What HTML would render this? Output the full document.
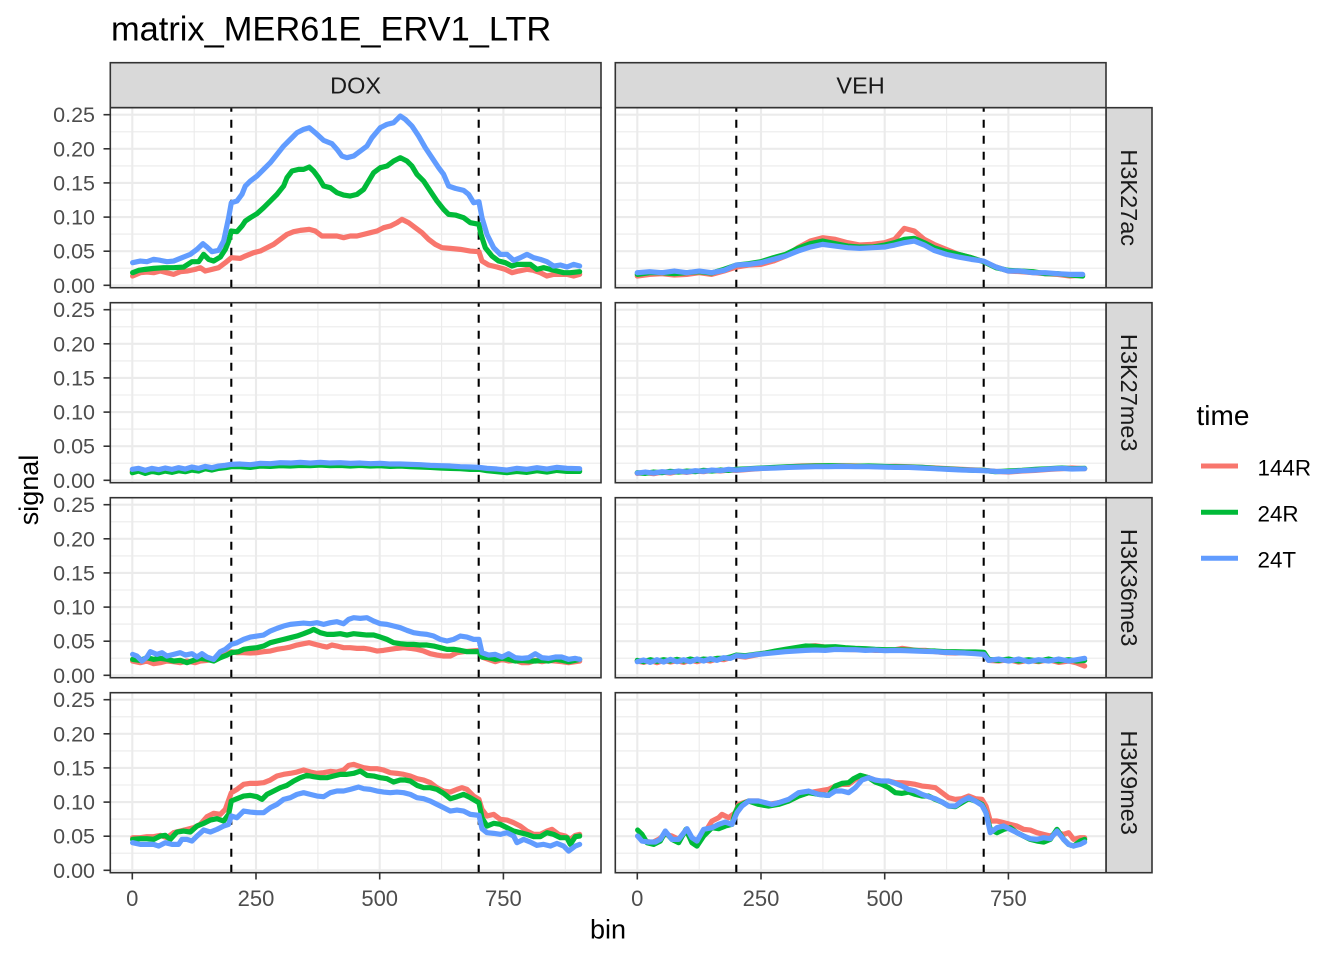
<!DOCTYPE html>
<html><head><meta charset="utf-8"><style>
html,body{margin:0;padding:0;background:#fff;}
svg{display:block;}
text{font-family:"Liberation Sans",Arial,sans-serif;}
</style></head><body>
<svg width="1344" height="960" viewBox="0 0 1344 960" xmlns="http://www.w3.org/2000/svg">
<defs>
<g id="grid">
<rect x="0" y="0" width="490.7" height="180" fill="#fff"/>
<g stroke="#EBEBEB" stroke-width="1.1">
<line x1="0" x2="490.7" y1="160.5" y2="160.5"/><line x1="0" x2="490.7" y1="126.4" y2="126.4"/><line x1="0" x2="490.7" y1="92.3" y2="92.3"/><line x1="0" x2="490.7" y1="58.2" y2="58.2"/><line x1="0" x2="490.7" y1="24.1" y2="24.1"/>
<line y1="0" y2="180" x1="83.9" x2="83.9"/><line y1="0" y2="180" x1="207.6" x2="207.6"/><line y1="0" y2="180" x1="331.3" x2="331.3"/><line y1="0" y2="180" x1="455" x2="455"/>
</g>
<g stroke="#EBEBEB" stroke-width="2.1">
<line x1="0" x2="490.7" y1="177.6" y2="177.6"/><line x1="0" x2="490.7" y1="143.5" y2="143.5"/><line x1="0" x2="490.7" y1="109.4" y2="109.4"/><line x1="0" x2="490.7" y1="75.2" y2="75.2"/><line x1="0" x2="490.7" y1="41.1" y2="41.1"/><line x1="0" x2="490.7" y1="7" y2="7"/>
<line y1="0" y2="180" x1="22" x2="22"/><line y1="0" y2="180" x1="145.7" x2="145.7"/><line y1="0" y2="180" x1="269.4" x2="269.4"/><line y1="0" y2="180" x1="393.1" x2="393.1"/>
</g>
<g stroke="#000" stroke-width="2.1" stroke-dasharray="8 8" stroke-dashoffset="4">
<line x1="121" x2="121" y1="0" y2="180"/><line x1="368.4" x2="368.4" y1="0" y2="180"/>
</g>
</g>
<g id="border"><rect x="0" y="0" width="490.7" height="180" fill="none" stroke="#333333" stroke-width="1.6"/></g>
<g id="yax" fill="#4D4D4D" font-size="21.5" text-anchor="end">
<text x="95" y="185.1">0.00</text><text x="95" y="151">0.05</text><text x="95" y="116.9">0.10</text><text x="95" y="82.7">0.15</text><text x="95" y="48.6">0.20</text><text x="95" y="14.5">0.25</text>
<g stroke="#333333" stroke-width="1.6"><line x1="103.5" x2="110.3" y1="177.6" y2="177.6"/><line x1="103.5" x2="110.3" y1="143.5" y2="143.5"/><line x1="103.5" x2="110.3" y1="109.4" y2="109.4"/><line x1="103.5" x2="110.3" y1="75.2" y2="75.2"/><line x1="103.5" x2="110.3" y1="41.1" y2="41.1"/><line x1="103.5" x2="110.3" y1="7" y2="7"/></g>
</g>
</defs>

<rect width="1344" height="960" fill="#fff"/>
<text x="111" y="40.7" font-size="34.4" fill="#000">matrix_MER61E_ERV1_LTR</text>

<!-- top strips -->
<rect x="110.3" y="62.7" width="490.7" height="45" fill="#D9D9D9" stroke="#333333" stroke-width="1.6"/>
<rect x="615.3" y="62.7" width="490.7" height="45" fill="#D9D9D9" stroke="#333333" stroke-width="1.6"/>
<text x="355.6" y="93.5" font-size="23.5" fill="#1A1A1A" text-anchor="middle">DOX</text>
<text x="860.6" y="93.5" font-size="23.5" fill="#1A1A1A" text-anchor="middle">VEH</text>

<!-- right strips -->
<g fill="#D9D9D9" stroke="#333333" stroke-width="1.6">
<rect x="1106" y="107.7" width="46" height="180"/>
<rect x="1106" y="302.7" width="46" height="180"/>
<rect x="1106" y="497.7" width="46" height="180"/>
<rect x="1106" y="692.7" width="46" height="180"/>
</g>
<g font-size="23.5" fill="#1A1A1A" text-anchor="middle">
<text transform="translate(1120.8,197.7) rotate(90)">H3K27ac</text>
<text transform="translate(1120.8,392.7) rotate(90)">H3K27me3</text>
<text transform="translate(1120.8,587.7) rotate(90)">H3K36me3</text>
<text transform="translate(1120.8,782.7) rotate(90)">H3K9me3</text>
</g>

<!-- y axes -->
<use href="#yax" transform="translate(0,107.7)"/>
<use href="#yax" transform="translate(0,302.7)"/>
<use href="#yax" transform="translate(0,497.7)"/>
<use href="#yax" transform="translate(0,692.7)"/>

<!-- x axes -->
<g stroke="#333333" stroke-width="1.6">
<line x1="132.3" x2="132.3" y1="872.7" y2="879.5"/><line x1="256" x2="256" y1="872.7" y2="879.5"/><line x1="379.7" x2="379.7" y1="872.7" y2="879.5"/><line x1="503.4" x2="503.4" y1="872.7" y2="879.5"/>
<line x1="637.3" x2="637.3" y1="872.7" y2="879.5"/><line x1="761" x2="761" y1="872.7" y2="879.5"/><line x1="884.7" x2="884.7" y1="872.7" y2="879.5"/><line x1="1008.4" x2="1008.4" y1="872.7" y2="879.5"/>
</g>
<g font-size="22" fill="#4D4D4D" text-anchor="middle">
<text x="132.3" y="906">0</text><text x="256" y="906">250</text><text x="379.7" y="906">500</text><text x="503.4" y="906">750</text>
<text x="637.3" y="906">0</text><text x="761" y="906">250</text><text x="884.7" y="906">500</text><text x="1008.4" y="906">750</text>
</g>
<text x="608" y="938.5" font-size="27" fill="#000" text-anchor="middle">bin</text>
<text transform="translate(38,490) rotate(-90)" font-size="27" fill="#000" text-anchor="middle">signal</text>

<!-- legend -->
<text x="1196.5" y="425" font-size="28" fill="#000">time</text>
<g stroke-width="5">
<line x1="1201" x2="1238" y1="466" y2="466" stroke="#F8766D"/>
<line x1="1201" x2="1238" y1="512.3" y2="512.3" stroke="#00BA38"/>
<line x1="1201" x2="1238" y1="558.3" y2="558.3" stroke="#619CFF"/>
</g>
<g font-size="22.4" fill="#000">
<text x="1257.5" y="475.7">144R</text><text x="1257.5" y="521.7">24R</text><text x="1257.5" y="567.7">24T</text>
</g>

<!-- PANEL DOX H3K27ac -->
<g transform="translate(110.3,107.7)">
<use href="#grid"/>
<g transform="scale(0.33333)" fill="none" stroke-width="15.6" stroke-linejoin="round" stroke-linecap="round">
<polyline stroke="#F8766D" points="67,505 90,495 110,493 130,495 150,490 170,495 190,500 210,492 230,490 255,485 270,480 285,490 305,485 325,480 345,465 363,450 390,452 405,445 430,435 450,430 470,420 490,410 510,395 530,380 550,372 570,368 597,365 615,370 635,385 660,385 680,385 700,390 720,385 740,385 760,380 780,375 800,370 820,360 840,355 860,345 875,335 895,345 915,360 935,375 955,395 975,410 995,420 1020,422 1050,425 1080,430 1106,432 1115,460 1135,472 1160,478 1185,485 1205,495 1225,490 1250,485 1270,488 1290,495 1310,505 1330,500 1350,500 1370,500 1390,505 1408,500"/>
<polyline stroke="#00BA38" points="67,495 85,488 105,485 130,482 160,480 190,480 220,478 245,462 265,462 280,440 295,455 310,460 330,448 345,425 355,400 363,370 380,372 395,355 405,340 420,330 440,318 460,300 480,280 500,260 520,235 530,210 545,190 565,185 580,185 597,178 610,190 625,210 640,235 660,240 680,255 700,262 720,265 740,260 760,245 775,220 790,195 810,180 830,175 850,160 870,150 890,160 905,175 920,200 940,220 960,250 980,280 1000,305 1015,320 1035,322 1060,330 1080,345 1106,350 1112,380 1125,420 1145,445 1165,460 1185,465 1205,475 1220,470 1240,470 1260,470 1280,485 1300,480 1320,485 1340,490 1360,495 1380,495 1408,492"/>
<polyline stroke="#619CFF" points="67,465 90,460 110,462 130,455 150,458 170,462 190,460 215,450 240,440 260,425 278,408 290,418 305,432 325,428 340,400 355,330 363,285 380,280 395,260 405,235 420,220 440,205 460,185 480,165 500,140 520,115 540,95 560,75 580,65 597,60 615,75 640,98 665,108 680,125 695,145 710,150 730,145 750,130 770,115 785,90 810,60 830,50 850,45 870,25 885,35 905,55 925,85 945,120 965,150 985,180 1000,200 1015,235 1035,242 1060,248 1075,260 1090,285 1106,282 1115,330 1130,380 1150,420 1170,440 1190,440 1210,458 1230,450 1250,440 1270,450 1290,455 1310,462 1330,475 1350,472 1370,478 1390,470 1408,475"/>
</g>
<use href="#border"/>
</g>

<!-- PANEL VEH H3K27ac -->
<g transform="translate(615.3,107.7)">
<use href="#grid"/>
<g transform="scale(0.33333)" fill="none" stroke-width="15.6" stroke-linejoin="round" stroke-linecap="round">
<polyline stroke="#F8766D" points="66,505 103,500 140,498 177,502 214,500 252,495 289,500 326,490 363,478 400,472 437,470 474,460 511,445 548,420 585,400 622,390 660,395 697,405 734,412 771,410 808,405 838,395 867,362 897,370 927,395 956,410 993,425 1030,440 1068,450 1105,462 1142,478 1179,490 1216,492 1253,495 1290,498 1327,500 1364,505 1402,502"/>
<polyline stroke="#00BA38" points="66,500 103,495 140,495 177,498 214,495 252,492 289,496 326,485 363,472 400,468 437,462 474,450 511,440 548,422 585,408 622,400 660,408 697,415 734,418 771,418 808,412 838,405 867,395 897,392 927,405 956,420 993,432 1030,440 1068,450 1105,462 1142,480 1179,488 1216,490 1253,492 1290,498 1327,498 1364,502 1402,505"/>
<polyline stroke="#619CFF" points="66,495 103,492 140,495 177,490 214,495 252,490 289,495 326,488 363,472 400,470 437,465 474,455 511,445 548,430 585,418 622,410 660,415 697,420 734,422 771,420 808,418 838,412 867,405 897,400 927,412 956,428 993,440 1030,448 1068,455 1105,460 1142,478 1179,490 1216,490 1253,495 1290,495 1327,498 1364,500 1402,500"/>
</g>
<use href="#border"/>
</g>

<!-- PANEL DOX H3K27me3 -->
<g transform="translate(110.3,302.7)">
<use href="#grid"/>
<g transform="scale(0.33333)" fill="none" stroke-width="15.6" stroke-linejoin="round" stroke-linecap="round">
<polyline stroke="#F8766D" points="66,505 85,500 105,506 125,502 145,505 165,500 185,504 205,500 225,503 245,498 265,502 285,496 305,500 325,495 345,493 363,490 390,490 420,492 450,488 480,490 510,487 540,488 570,485 600,487 630,485 660,487 690,486 720,488 750,486 780,488 810,487 840,489 870,488 900,490 930,490 960,492 990,493 1020,494 1050,495 1080,496 1106,497 1130,500 1160,502 1190,505 1220,500 1250,503 1280,498 1310,502 1340,498 1370,500 1408,502"/>
<polyline stroke="#00BA38" points="66,510 85,505 105,512 125,506 145,510 165,505 185,509 205,504 225,507 245,502 265,505 285,498 305,502 325,497 345,495 363,492 390,492 420,494 450,490 480,491 510,489 540,490 570,488 600,489 630,487 660,489 690,488 720,490 750,488 780,490 810,489 840,491 870,490 900,492 930,493 960,494 990,496 1020,497 1050,498 1080,500 1106,500 1130,504 1160,507 1190,510 1220,506 1250,509 1280,504 1310,508 1340,503 1370,506 1408,506"/>
<polyline stroke="#619CFF" points="66,500 85,497 105,503 125,497 145,501 165,496 185,500 205,495 225,499 245,493 265,497 285,491 305,495 325,490 345,488 363,485 390,484 420,486 450,482 480,483 510,480 540,481 570,479 600,481 630,479 660,481 690,480 720,482 750,481 780,483 810,482 840,484 870,484 900,485 930,486 960,488 990,489 1020,490 1050,492 1080,493 1106,494 1130,497 1160,499 1190,502 1220,497 1250,500 1280,495 1310,499 1340,494 1370,497 1408,498"/>
</g>
<use href="#border"/>
</g>

<!-- PANEL VEH H3K27me3 -->
<g transform="translate(615.3,302.7)">
<use href="#grid"/>
<g transform="scale(0.33333)" fill="none" stroke-width="15.6" stroke-linejoin="round" stroke-linecap="round">
<polyline stroke="#F8766D" points="66,512 90,510 115,513 140,508 165,511 190,506 215,509 240,505 265,507 290,503 315,505 340,502 363,503 400,500 440,497 480,495 520,492 560,490 600,489 640,490 680,489 720,490 760,491 800,492 840,491 880,492 920,494 960,496 1000,498 1040,500 1080,502 1106,503 1140,506 1180,508 1220,505 1260,503 1300,500 1340,498 1370,496 1408,498"/>
<polyline stroke="#00BA38" points="66,510 90,512 115,508 140,510 165,506 190,508 215,505 240,507 265,503 290,505 315,502 340,503 363,500 400,498 440,496 480,494 520,492 560,491 600,490 640,489 680,490 720,491 760,490 800,491 840,492 880,493 920,494 960,497 1000,499 1040,501 1080,503 1106,503 1140,507 1180,505 1220,503 1260,500 1300,498 1340,496 1370,498 1408,497"/>
<polyline stroke="#619CFF" points="66,511 90,508 115,511 140,507 165,509 190,505 215,508 240,504 265,506 290,502 315,504 340,500 363,502 400,499 440,497 480,496 520,494 560,493 600,492 640,492 680,491 720,492 760,492 800,493 840,494 880,494 920,496 960,498 1000,500 1040,502 1080,503 1106,504 1140,506 1180,507 1220,504 1260,502 1300,499 1340,497 1370,499 1408,498"/>
</g>
<use href="#border"/>
</g>

<!-- PANEL DOX H3K36me3 -->
<g transform="translate(110.3,497.7)">
<use href="#grid"/>
<g transform="scale(0.33333)" fill="none" stroke-width="15.6" stroke-linejoin="round" stroke-linecap="round">
<polyline stroke="#F8766D" points="67,490 90,495 110,490 130,498 150,495 170,490 190,492 210,495 230,490 255,495 270,490 290,488 310,485 330,478 345,472 363,462 380,465 400,465 420,466 440,465 460,462 480,460 500,455 520,452 540,448 560,442 580,438 597,435 615,440 635,445 650,448 665,442 680,445 700,450 720,450 740,452 760,452 780,455 800,460 820,458 840,455 860,452 880,450 900,452 920,455 940,460 960,468 980,472 1000,475 1020,475 1040,465 1060,462 1080,460 1106,458 1115,478 1135,485 1155,492 1175,485 1195,490 1215,488 1235,495 1255,495 1275,488 1295,492 1315,488 1335,490 1355,492 1375,495 1395,492 1408,490"/>
<polyline stroke="#00BA38" points="67,485 90,488 110,480 130,485 150,482 170,485 190,490 210,488 230,495 250,488 270,482 290,485 310,490 330,480 350,472 363,465 385,462 400,455 420,452 440,450 460,445 480,435 500,430 520,425 540,420 560,415 580,408 600,400 610,395 630,405 650,410 670,410 690,408 710,412 730,408 750,410 770,412 790,412 810,418 830,425 850,435 870,438 890,440 910,440 930,442 950,442 970,445 990,450 1010,455 1030,455 1050,458 1070,462 1090,462 1106,462 1115,478 1135,480 1155,485 1175,482 1195,485 1215,490 1235,488 1255,490 1275,490 1295,488 1315,490 1335,485 1355,488 1375,492 1395,488 1408,485"/>
<polyline stroke="#619CFF" points="67,470 80,475 95,490 110,478 120,462 140,470 155,465 170,475 190,470 210,465 225,472 245,468 260,478 275,468 290,478 310,485 330,462 345,455 363,440 380,435 400,425 420,418 440,415 460,412 480,400 500,392 520,385 540,380 560,378 580,376 600,378 620,375 640,380 660,375 680,372 700,378 715,365 730,360 750,362 770,360 790,370 810,378 830,380 850,385 870,390 890,398 910,405 930,408 950,410 970,415 990,425 1010,430 1030,425 1050,415 1070,418 1090,425 1106,425 1115,465 1135,472 1155,470 1175,478 1195,468 1215,480 1235,482 1255,480 1275,468 1295,480 1315,482 1335,478 1355,478 1375,485 1395,482 1408,485"/>
</g>
<use href="#border"/>
</g>

<!-- PANEL VEH H3K36me3 -->
<g transform="translate(615.3,497.7)">
<use href="#grid"/>
<g transform="scale(0.33333)" fill="none" stroke-width="15.6" stroke-linejoin="round" stroke-linecap="round">
<polyline stroke="#F8766D" points="66,490 85,494 105,488 125,495 145,488 165,493 185,489 205,494 225,487 245,492 265,486 285,490 305,484 325,486 345,480 363,475 390,478 420,472 450,466 480,462 510,458 540,452 570,446 600,444 630,448 660,450 690,455 720,456 750,455 780,458 810,458 840,456 860,452 880,455 900,458 930,458 960,462 990,465 1020,466 1050,465 1080,466 1106,468 1120,488 1150,490 1180,486 1210,493 1240,488 1270,492 1300,486 1330,494 1360,490 1385,496 1408,505"/>
<polyline stroke="#00BA38" points="66,488 85,492 105,486 125,491 145,486 165,490 185,485 205,490 225,484 245,488 265,484 285,486 305,482 325,482 345,478 363,472 390,474 420,470 450,466 480,460 510,455 540,450 570,445 600,446 630,448 660,447 690,450 720,452 750,453 780,455 810,456 840,456 870,457 900,458 930,460 960,460 990,462 1020,462 1050,463 1080,463 1106,464 1120,485 1150,488 1180,484 1210,490 1240,486 1270,490 1300,484 1330,490 1360,486 1385,490 1408,488"/>
<polyline stroke="#619CFF" points="66,492 85,487 105,494 125,486 145,493 165,485 185,492 205,486 225,492 245,484 265,490 285,483 305,488 325,480 345,482 363,474 390,476 420,471 450,468 480,465 510,462 540,460 570,458 600,457 630,458 660,455 690,456 720,456 750,458 780,457 810,459 840,458 870,459 900,460 930,461 960,462 990,464 1020,465 1050,466 1080,468 1106,470 1120,488 1150,484 1180,490 1210,484 1240,492 1270,486 1300,490 1330,484 1360,490 1385,486 1408,482"/>
</g>
<use href="#border"/>
</g>

<!-- PANEL DOX H3K9me3 -->
<g transform="translate(110.3,692.7)">
<use href="#grid"/>
<g transform="scale(0.33333)" fill="none" stroke-width="15.6" stroke-linejoin="round" stroke-linecap="round">
<polyline stroke="#F8766D" points="67,435 90,435 110,432 130,432 150,428 170,435 190,420 210,415 230,410 250,405 270,395 290,372 310,362 330,365 345,350 363,300 380,290 400,275 420,272 440,272 460,270 480,262 500,250 520,245 540,242 560,238 580,232 600,238 620,242 640,240 660,236 680,238 700,232 715,218 730,215 745,220 760,225 780,228 800,228 820,232 840,240 860,242 880,245 900,250 920,258 940,262 960,270 980,285 1000,295 1020,298 1040,290 1055,285 1070,290 1090,310 1106,320 1115,350 1130,370 1150,365 1170,380 1190,382 1210,390 1230,400 1250,415 1270,425 1290,425 1310,415 1325,410 1345,425 1365,430 1380,440 1395,428 1408,425"/>
<polyline stroke="#00BA38" points="67,440 90,438 110,438 130,440 150,430 165,428 180,440 200,418 220,415 240,418 260,400 280,392 300,382 320,378 340,385 355,365 363,325 380,318 400,310 420,308 440,312 455,320 470,305 490,295 510,285 530,278 550,265 570,255 590,248 610,252 630,255 650,255 670,250 690,245 710,245 730,242 750,235 770,248 790,250 810,255 830,258 850,268 870,262 885,262 900,265 920,278 940,285 960,285 980,290 1000,302 1020,318 1040,312 1060,305 1080,315 1106,330 1115,375 1130,400 1150,392 1170,395 1190,405 1210,415 1230,420 1250,425 1270,432 1290,432 1310,420 1330,425 1350,435 1370,435 1380,455 1395,432 1408,430"/>
<polyline stroke="#619CFF" points="67,450 90,455 110,455 130,455 145,460 165,450 185,455 205,455 215,440 230,440 245,445 260,430 280,412 300,418 320,410 340,400 355,395 363,370 380,375 400,355 420,358 440,360 460,360 480,345 500,335 520,320 540,315 560,305 580,300 600,305 620,310 640,312 660,300 680,295 700,295 720,290 745,283 760,288 780,290 800,295 820,298 840,300 860,298 880,300 900,305 920,315 940,318 960,325 980,335 1000,345 1020,355 1040,352 1060,355 1080,365 1106,368 1115,408 1130,420 1150,422 1170,425 1190,420 1210,430 1220,450 1240,440 1260,448 1280,458 1300,455 1320,460 1340,452 1360,460 1375,475 1395,460 1408,455"/>
</g>
<use href="#border"/>
</g>

<!-- PANEL VEH H3K9me3 -->
<g transform="translate(615.3,692.7)">
<use href="#grid"/>
<g transform="scale(0.33333)" fill="none" stroke-width="15.6" stroke-linejoin="round" stroke-linecap="round">
<polyline stroke="#F8766D" points="67,430 90,445 110,450 130,440 150,425 170,430 190,440 210,415 230,440 245,450 265,425 290,385 310,375 320,365 340,375 360,360 370,335 400,325 430,325 460,335 490,330 520,325 550,310 580,300 610,295 640,290 660,280 680,275 700,275 720,260 740,250 760,255 780,262 800,268 820,265 840,270 860,270 880,272 900,275 920,280 940,282 960,285 980,300 1000,315 1020,320 1040,318 1060,310 1080,318 1100,320 1112,340 1125,385 1145,385 1165,390 1185,395 1205,400 1225,410 1245,412 1265,420 1285,425 1305,430 1325,420 1345,425 1360,420 1375,440 1395,435 1408,435"/>
<polyline stroke="#00BA38" points="67,412 80,425 95,450 115,455 135,445 150,418 170,440 190,450 212,410 230,450 245,460 265,430 290,405 310,408 330,400 350,395 360,360 370,340 400,325 430,335 460,340 490,335 520,325 550,310 580,300 610,305 640,308 660,280 680,272 700,270 715,258 735,248 760,255 780,268 800,275 820,285 840,300 860,302 880,298 900,305 920,310 940,310 960,320 980,328 1000,340 1020,342 1040,330 1060,318 1080,325 1100,335 1112,360 1125,410 1145,420 1165,410 1185,405 1205,420 1225,430 1245,440 1265,445 1285,448 1305,440 1325,410 1345,440 1360,455 1375,460 1395,445 1408,440"/>
<polyline stroke="#619CFF" points="67,430 80,445 100,448 120,448 135,440 150,415 170,440 190,440 215,408 230,435 245,445 265,410 290,405 310,395 330,388 350,395 365,360 380,340 400,325 430,325 450,330 470,335 490,330 520,320 550,300 580,295 610,305 640,308 660,295 680,295 700,300 720,285 740,262 760,255 780,262 800,265 820,265 840,272 860,280 880,290 900,295 920,305 940,312 960,318 980,328 1000,340 1020,340 1040,325 1060,315 1080,325 1100,338 1112,360 1125,420 1145,405 1165,400 1185,410 1205,420 1225,430 1245,438 1265,440 1285,435 1305,438 1325,415 1345,440 1360,455 1375,460 1395,455 1408,448"/>
</g>
<use href="#border"/>
</g>
</svg>
</body></html>
